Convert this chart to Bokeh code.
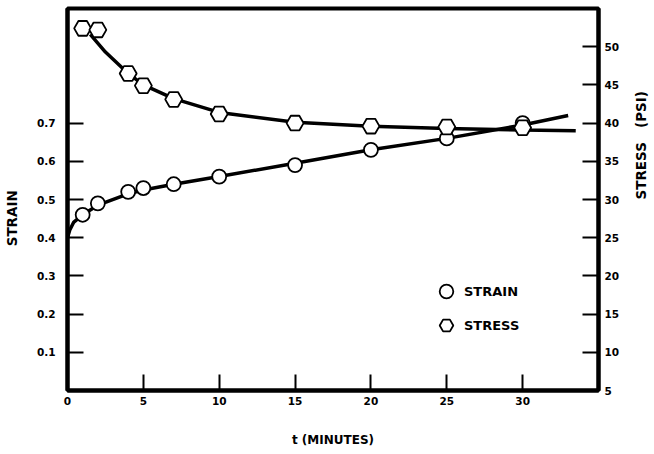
import math
from bokeh.plotting import figure
from bokeh.models import Range1d, LinearAxis, FixedTicker, Legend, LegendItem
from bokeh.embed import file_html
from bokeh.resources import INLINE

# measured points
t_pts = [1, 2, 4, 5, 7, 10, 15, 20, 25, 30]
strain_pts = [0.46, 0.49, 0.52, 0.53, 0.54, 0.56, 0.59, 0.63, 0.66, 0.70]
stress_pts = [52.4, 52.2, 46.5, 44.9, 43.1, 41.2, 40.0, 39.6, 39.5, 39.4]

# faired curves
t_strain_curve = [0, 0.15, 0.4, 1, 2, 4, 5, 7, 10, 15, 20, 25, 30, 33]
strain_curve = [0.40, 0.42, 0.44, 0.46, 0.485, 0.515, 0.525, 0.54, 0.56, 0.595, 0.63, 0.66, 0.695, 0.72]
t_stress_curve = [1.5, 2.5, 4, 5, 7, 10, 15, 20, 25, 30, 33.5]
stress_curve = [51.6, 49.3, 46.5, 45.0, 43.2, 41.4, 40.1, 39.6, 39.3, 39.1, 39.0]

x_ticks = [0, 5, 10, 15, 20, 25, 30]
strain_ticks = [0.1, 0.2, 0.3, 0.4, 0.5, 0.6, 0.7]
stress_ticks = [5, 10, 15, 20, 25, 30, 35, 40, 45, 50]

FONT = "DejaVu Sans"
NB = "\u00a0"

p = figure(frame_width=531, frame_height=382, output_backend="svg", toolbar_location=None,
           x_range=Range1d(0, 35), y_range=Range1d(0, 1.0),
           min_border_left=66, min_border_right=52, min_border_top=8, min_border_bottom=60,
           y_axis_location=None)
p.extra_y_ranges = {"stress": Range1d(5, 55)}
p.grid.visible = False
p.outline_line_color = "black"
p.outline_line_width = 4
p.background_fill_color = "white"
p.border_fill_color = "white"

def style_axis(ax, label, standoff, lab_standoff, title_size="13.5px"):
    ax.axis_label = label
    ax.axis_label_text_font = FONT
    ax.axis_label_text_font_style = "bold"
    ax.axis_label_text_font_size = title_size
    ax.axis_label_text_color = "black"
    ax.axis_label_standoff = standoff
    ax.major_label_text_font = FONT
    ax.major_label_text_font_style = "bold"
    ax.major_label_text_font_size = "10.5px"
    ax.major_label_text_color = "black"
    ax.major_label_standoff = lab_standoff
    ax.axis_line_width = 4
    ax.axis_line_color = "black"
    ax.major_tick_in = 16
    ax.major_tick_out = 0
    ax.major_tick_line_width = 2
    ax.minor_tick_line_color = None

xa = p.xaxis[0]
style_axis(xa, "t (MINUTES)", 25, 6, "12px")
xa.ticker = FixedTicker(ticks=x_ticks)

la = LinearAxis(ticker=FixedTicker(ticks=strain_ticks))
style_axis(la, "STRAIN" + NB * 8, 14, 12)
p.add_layout(la, "left")

ra = LinearAxis(y_range_name="stress", ticker=FixedTicker(ticks=stress_ticks))
style_axis(ra, "STRESS" + NB * 3 + "(PSI)", 19, 6)
ra.axis_label_orientation = math.pi / 2
p.add_layout(ra, "right")

p.line(t_strain_curve, strain_curve, line_color="black", line_width=3.5)
p.line(t_stress_curve, stress_curve, line_color="black", line_width=3.5, y_range_name="stress")

r_strain = p.scatter(t_pts, strain_pts, marker="circle", size=14, fill_color="white",
                     line_color="black", line_width=1.8)
r_stress = p.scatter(t_pts, stress_pts, marker="hex", size=17, fill_color="white",
                     line_color="black", line_width=1.8, y_range_name="stress")

legend = Legend(items=[LegendItem(label="STRAIN", renderers=[r_strain]),
                       LegendItem(label="STRESS", renderers=[r_stress])],
                location=(361, 48), glyph_width=36, glyph_height=34, label_standoff=-3,
                spacing=0, padding=0, margin=0, border_line_color=None,
                background_fill_alpha=0, label_text_font=FONT,
                label_text_font_style="bold", label_text_font_size="13px",
                label_text_color="black")
p.add_layout(legend, "center")

open("out.html", "w").write(file_html(p, INLINE))
